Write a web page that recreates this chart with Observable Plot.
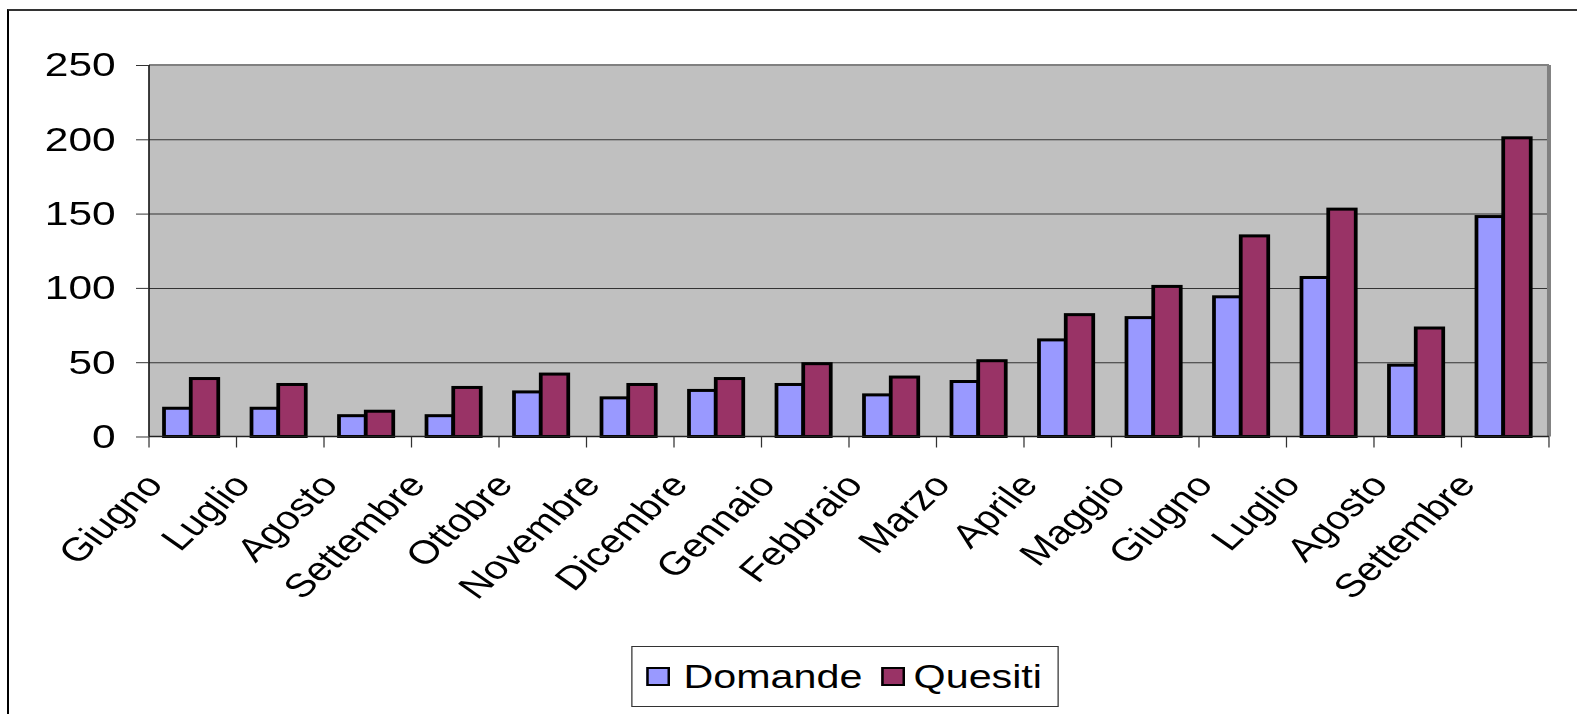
<!DOCTYPE html>
<html>
<head>
<meta charset="utf-8">
<script src="https://cdn.jsdelivr.net/npm/d3@7"></script>
<script src="https://cdn.jsdelivr.net/npm/@observablehq/plot@0.6"></script>
<style>
  html, body { margin: 0; padding: 0; background: #fff; }
  body { width: 1577px; height: 714px; overflow: hidden; position: relative;
         font-family: "Liberation Sans", Arial, sans-serif; }
  #frame { position: absolute; left: 7px; top: 9px; width: 1620px; height: 760px;
           border-left: 2px solid #000; border-top: 2px solid #333; box-sizing: border-box; }
  /* the original picture is horizontally stretched: reproduce that with one uniform scale */
  #wrap { position: absolute; left: 0; top: 0; width: 1261.6px; height: 714px;
          transform: scaleX(1.25); transform-origin: 0 0; }
  #chart { position: absolute; left: 0; top: 0; }
  #legend { position: absolute; left: 504.8px; top: 646px; width: 342.4px; height: 61px;
            border: 1.5px solid #333; box-sizing: border-box; background: #fff;
            display: flex; align-items: center; padding-left: 11px;
            font-size: 33px; color: #000; white-space: nowrap; }
  #legend .sw { display: inline-block; width: 15px; height: 15px; border: 2px solid #000; flex: none; }
  #legend .item { display: flex; align-items: center; }
  #legend .item + .item { margin-left: 15px; }
  #legend .item:first-child .sw { margin-right: 11px; }
  #legend .item:last-child .sw { margin-right: 7px; }
</style>
</head>
<body>
<div id="frame"></div>
<div id="wrap">
  <div id="chart"></div>
  <div id="legend"></div>
</div>
<script>
const months = ["Giugno","Luglio","Agosto","Settembre","Ottobre","Novembre","Dicembre","Gennaio",
                "Febbraio","Marzo","Aprile","Maggio","Giugno","Luglio","Agosto","Settembre"];
const domande = [19, 19, 14, 14, 30, 26, 31, 35, 28, 37, 65, 80, 94, 107, 48, 148];
const quesiti = [39, 35, 17, 33, 42, 35, 39, 49, 40, 51, 82, 101, 135, 153, 73, 201];
const seriesNames = ["Domande", "Quesiti"];
const seriesColors = ["#9999FF", "#993366"];
const yTicks = [0, 50, 100, 150, 200, 250];

const rows = months.map((m, i) => ({ i, month: m, domande: domande[i], quesiti: quesiti[i] }));

const W = 1261.6, H = 640;

// Plot-area edges and category boundary ticks, drawn from the plot's own scales/dimensions
function edges(index, scales, values, dims) {
  const x = scales.x;
  const left = dims.marginLeft, right = dims.width - dims.marginRight;
  const top = dims.marginTop, bottom = dims.height - dims.marginBottom;
  const g = d3.create("svg:g");
  g.append("line").attr("x1", left).attr("x2", right).attr("y1", top).attr("y2", top)
    .attr("stroke", "#808080").attr("stroke-width", 2);
  g.append("line").attr("x1", right).attr("x2", right).attr("y1", top).attr("y2", bottom)
    .attr("stroke", "#808080").attr("stroke-width", 3.2);
  g.append("line").attr("x1", left).attr("x2", right).attr("y1", bottom).attr("y2", bottom)
    .attr("stroke", "#222").attr("stroke-width", 1.6);
  g.append("line").attr("x1", left).attr("x2", left).attr("y1", top).attr("y2", bottom)
    .attr("stroke", "#111").attr("stroke-width", 1.3);
  const dom = x.domain();
  const bw = x.bandwidth();
  const bounds = dom.map(d => x(d)).concat([x(dom[dom.length - 1]) + bw]);
  for (const b of bounds) {
    g.append("line").attr("x1", b).attr("x2", b).attr("y1", bottom).attr("y2", bottom + 11)
      .attr("stroke", "#333").attr("stroke-width", 1);
  }
  return g.node();
}

const plot = Plot.plot({
  width: W,
  height: H,
  marginLeft: 119.2,
  marginRight: 22.4,
  marginTop: 65,
  marginBottom: H - 436.5,
  style: { fontFamily: "'Liberation Sans', Arial, sans-serif", fontSize: "34px",
           background: "transparent", overflow: "visible", color: "#000" },
  x: { type: "band", domain: rows.map(d => d.i), padding: 0, round: false, axis: null },
  y: { domain: [0, 250], axis: null },
  marks: [
    Plot.frame({ fill: "#C0C0C0" }),
    Plot.ruleY(yTicks.filter(t => t > 0 && t < 250), { stroke: "#333", strokeWidth: 1 }),
    Plot.barY(rows, { x: "i", y: "domande", fill: seriesColors[0], stroke: "#000", strokeWidth: 3,
                      insetLeft: 12, insetRight: 36.6 }),
    Plot.barY(rows, { x: "i", y: "quesiti", fill: seriesColors[1], stroke: "#000", strokeWidth: 3,
                      insetLeft: 33.4, insetRight: 14.6 }),
    edges,
    Plot.axisY({ ticks: yTicks, tickSize: 10.4, tickPadding: 16.8, fontSize: 34, stroke: "#333" }),
    Plot.text(rows, { x: "i", frameAnchor: "bottom", text: "month", rotate: -49,
                      textAnchor: "end", lineAnchor: "bottom", dx: -23, dy: 49, fontSize: 33, fill: "#000" })
  ]
});
document.getElementById("chart").appendChild(plot);

const legend = document.getElementById("legend");
seriesNames.forEach((name, k) => {
  const item = document.createElement("div");
  item.className = "item";
  const sw = document.createElement("span");
  sw.className = "sw";
  sw.style.background = seriesColors[k];
  const label = document.createElement("span");
  label.textContent = name;
  item.appendChild(sw);
  item.appendChild(label);
  legend.appendChild(item);
});
</script>
</body>
</html>
